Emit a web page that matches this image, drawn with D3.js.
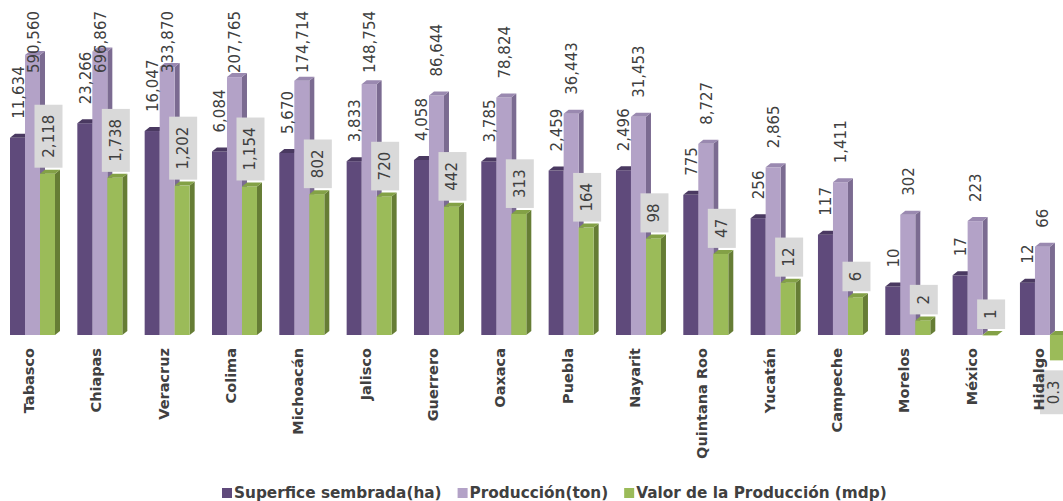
<!DOCTYPE html>
<html>
<head>
<meta charset="utf-8">
<script src="https://cdn.jsdelivr.net/npm/d3@7/dist/d3.min.js"></script>
<style>
  html, body { margin: 0; padding: 0; background: #ffffff; }
  svg { display: block; }
  text { font-family: "DejaVu Sans", sans-serif; fill: #404040; }
</style>
</head>
<body>
<svg id="chart" width="1063" height="501"></svg>
<script>
// ---------- data ----------
const categories = ["Tabasco", "Chiapas", "Veracruz", "Colima", "Michoacán", "Jalisco", "Guerrero", "Oaxaca",
  "Puebla", "Nayarit", "Quintana Roo", "Yucatán", "Campeche", "Morelos", "México", "Hidalgo"];
const superficie = [11634, 23266, 16047, 6084, 5670, 3833, 4058, 3785, 2459, 2496, 775, 256, 117, 10, 17, 12];
const produccion = [590560, 696867, 333870, 207765, 174714, 148754, 86644, 78824, 36443, 31453, 8727, 2865, 1411, 302, 223, 66];
const valor = [2118, 1738, 1202, 1154, 802, 720, 442, 313, 164, 98, 47, 12, 6, 2, 1, 0.3];
const seriesNames = ["Superfice sembrada(ha)", "Producción(ton)", "Valor de la Producción (mdp)"];
const seriesValues = [superficie, produccion, valor];

// ---------- styles ----------
const colors = [
  { front: "#5f4a7b", side: "#3f3056", top: "#4a3961" },
  { front: "#b3a2c7", side: "#7b6b91", top: "#9a89b0" },
  { front: "#9bbb59", side: "#667d35", top: "#83a146" }
];

const svg = d3.select("#chart");
const W = 1063;

const y = d3.scaleLog().domain([1, 1e6]).range([335, 44]);
const step = 67.33;
const x = d3.scaleBand().domain(categories).range([10, 10 + step * categories.length]).padding(0);
const xs = d3.scaleBand().domain(seriesNames).range([0, 45]).padding(0);
const bw = xs.bandwidth();
const dx = 5, dy = 4;
const y0 = y(1);

const fmt = d3.format(",");

const rows = [];
categories.forEach((c, i) => {
  seriesNames.forEach((s, j) => {
    rows.push({ cat: c, ser: s, j: j, v: seriesValues[j][i] });
  });
});

// ---------- bars ----------
const gBars = svg.append("g");
rows.forEach(d => {
  const x0 = x(d.cat) + xs(d.ser);
  const yv = y(d.v);
  const top = Math.min(yv, y0), bot = Math.max(yv, y0);
  const c = colors[d.j];
  const g = gBars.append("g");
  g.append("polygon")
    .attr("points", [[x0 + bw, top], [x0 + bw + dx, top - dy], [x0 + bw + dx, bot - dy], [x0 + bw, bot]].map(p => p.join(",")).join(" "))
    .attr("fill", c.side);
  g.append("rect").attr("x", x0).attr("y", top).attr("width", bw).attr("height", Math.max(0.5, bot - top))
    .attr("fill", c.front);
  g.append("polygon")
    .attr("points", [[x0, top], [x0 + dx, top - dy], [x0 + bw + dx, top - dy], [x0 + bw, top]].map(p => p.join(",")).join(" "))
    .attr("fill", c.top);
});

// ---------- value labels ----------
const gLab = svg.append("g");
rows.forEach(d => {
  const x0 = x(d.cat) + xs(d.ser);
  let cx = x0 + bw / 2 + 1;
  const yv = y(d.v);
  const txt = fmt(d.v);
  if (d.j < 2) {
    const t = gLab.append("text").text(txt).attr("font-size", 15).attr("text-anchor", "start")
      .attr("dominant-baseline", "central");
    const len = t.node().getComputedTextLength();
    let yb = yv - 19;
    if (yb - len < 11) yb = 11 + len;
    t.attr("transform", `translate(${cx},${yb}) rotate(-90)`);
  } else {
    cx = Math.min(cx, W - 9);
    const t = gLab.append("text").text(txt).attr("font-size", 15).attr("text-anchor", "middle")
      .attr("dominant-baseline", "central");
    const len = t.node().getComputedTextLength();
    const bh = len + 20, bwx = 28;
    let by;
    if (d.v >= 1) by = yv - 6 - bh; else by = yv + 10;
    gLab.insert("rect", () => t.node())
      .attr("x", cx - bwx / 2).attr("y", by).attr("width", bwx).attr("height", bh)
      .attr("fill", "#d9d9d9");
    t.attr("transform", `translate(${cx},${by + bh / 2}) rotate(-90)`);
  }
});

// ---------- category labels ----------
const gCat = svg.append("g");
categories.forEach(c => {
  gCat.append("text").text(c)
    .attr("font-size", 14.5).attr("font-weight", "bold")
    .attr("text-anchor", "end").attr("dominant-baseline", "central")
    .attr("transform", `translate(${x(c) + 19},348) rotate(-90)`);
});

// ---------- legend ----------
const gLeg = svg.append("g");
let lx = 222;
seriesNames.forEach((s, j) => {
  gLeg.append("rect").attr("x", lx).attr("y", 488).attr("width", 10).attr("height", 10).attr("fill", colors[j].front);
  const t = gLeg.append("text").text(s).attr("x", lx + 12).attr("y", 493)
    .attr("font-size", 15.3).attr("font-weight", "bold").attr("dominant-baseline", "central");
  lx += 12 + t.node().getComputedTextLength() + 16;
});
</script>
</body>
</html>
